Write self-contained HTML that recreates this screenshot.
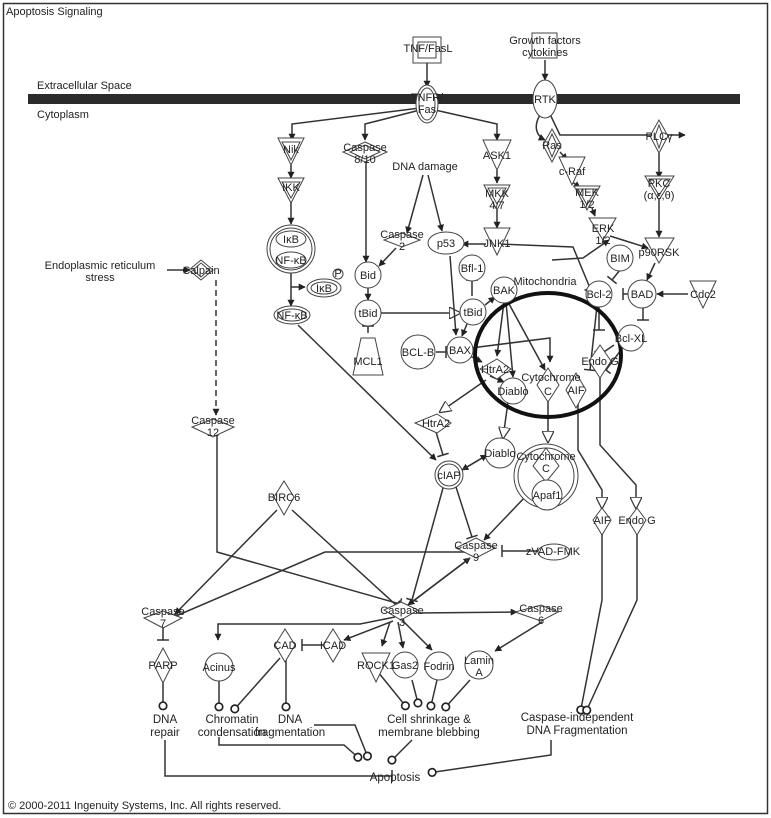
<!DOCTYPE html>
<html><head><meta charset="utf-8"><style>
html,body{margin:0;padding:0;background:#fff}
svg{display:block}
text{font-family:"Liberation Sans",sans-serif;font-size:11px;fill:#222}
.n{fill:#fff;stroke:#444;stroke-width:1}
.e{fill:none;stroke:#333;stroke-width:1.5}
.big text{font-size:11.5px}
</style></head><body>
<svg width="771" height="818" viewBox="0 0 771 818" xmlns="http://www.w3.org/2000/svg">
<defs>
<marker id="a" viewBox="0 0 10 10" refX="9" refY="5" markerWidth="7" markerHeight="7" orient="auto" markerUnits="userSpaceOnUse"><path d="M0,0L10,5L0,10z" fill="#222"/></marker>
<marker id="o" viewBox="0 0 10 10" refX="9" refY="5" markerWidth="12" markerHeight="12" orient="auto" markerUnits="userSpaceOnUse"><path d="M0,0L10,5L0,10z" fill="#fff" stroke="#333"/></marker>
<marker id="t" viewBox="0 0 4 12" refX="3" refY="6" markerWidth="4" markerHeight="12" orient="auto" markerUnits="userSpaceOnUse"><path d="M3,0V12" stroke="#333" stroke-width="1.5"/></marker>
<marker id="c" viewBox="0 0 12 12" refX="11" refY="6" markerWidth="10" markerHeight="10" orient="auto" markerUnits="userSpaceOnUse"><circle cx="6" cy="6" r="4.5" fill="#fff" stroke="#222" stroke-width="2"/></marker>
</defs>
<rect x="3.5" y="3.5" width="764" height="810" fill="none" stroke="#333" stroke-width="1.5"/>
<text x="6" y="15" font-size="12">Apoptosis Signaling</text>
<rect x="28" y="94" width="712" height="10" fill="#2b2b2b"/>
<text x="37" y="89">Extracellular Space</text>
<text x="37" y="118">Cytoplasm</text>
<text x="8" y="809" font-size="7.5">© 2000-2011 Ingenuity Systems, Inc. All rights reserved.</text>

<g class="e">
<path d="M427,62V87" marker-end="url(#a)"/>
<path d="M545,60V80" marker-end="url(#a)"/>
<path d="M420,108L292,124V140" marker-end="url(#a)"/>
<path d="M420,110L365,124V140" marker-end="url(#a)"/>
<path d="M435,110L497,124V140" marker-end="url(#a)"/>
<path d="M291,165V178" marker-end="url(#a)"/>
<path d="M291,198V224" marker-end="url(#a)"/>
<path d="M291,273V306" marker-end="url(#a)"/>
<path d="M291,287H305" marker-end="url(#a)"/>
<path d="M497,170V183" marker-end="url(#a)"/>
<path d="M497,210V228" marker-end="url(#a)"/>
<path d="M486,244H462" marker-end="url(#a)"/>
<path d="M498,244L573,247L590,288" marker-end="url(#t)"/>
<path d="M423,175L407,233" marker-end="url(#a)"/>
<path d="M428,175L442,231" marker-end="url(#a)"/>
<path d="M396,248L379,266" marker-end="url(#a)"/>
<path d="M366,162V262" marker-end="url(#a)"/>
<path d="M368,288V300" marker-end="url(#a)"/>
<path d="M368,333V326" marker-end="url(#t)"/>
<path d="M380,313H460" marker-end="url(#o)"/>
<path d="M472,296V280" marker-end="url(#t)"/>
<path d="M450,256L456,335" marker-end="url(#a)"/>
<path d="M467,324L462,336" marker-end="url(#a)"/>
<path d="M485,305L495,297" marker-end="url(#a)"/>
<path d="M436,352H446" marker-end="url(#t)"/>
<path d="M504,302L497,356" marker-end="url(#a)"/>
<path d="M506,302L513,377" marker-end="url(#a)"/>
<path d="M508,302L545,370" marker-end="url(#a)"/>
<path d="M471,348L550,338V362" marker-end="url(#a)"/>
<path d="M470,356L482,362" marker-end="url(#a)"/>
<path d="M490,376L504,382" marker-end="url(#a)"/>
<path d="M552,260L583,258L609,240" marker-end="url(#a)"/>
<path d="M570,180L580,188" marker-end="url(#a)"/>
<path d="M560,152L567,160" marker-end="url(#a)"/>
<path d="M592,208L595,216" marker-end="url(#a)"/>
<path d="M610,236L648,248" marker-end="url(#a)"/>
<path d="M548,110L560,135L685,135" marker-end="url(#a)"/>
<path d="M540,115C534,125 535,135 545,140" marker-end="url(#a)"/>
<path d="M659,153V178" marker-end="url(#a)"/>
<path d="M659,200V237" marker-end="url(#a)"/>
<path d="M655,263L647,280" marker-end="url(#a)"/>
<path d="M688,294H657" marker-end="url(#a)"/>
<path d="M630,294H623" marker-end="url(#t)"/>
<path d="M620,270L612,280" marker-end="url(#t)"/>
<path d="M643,308V320" marker-end="url(#t)"/>
<path d="M597,306L590,370" marker-end="url(#t)"/>
<path d="M599,306V330" marker-end="url(#t)"/>
<path d="M621,350L606,370" marker-end="url(#t)"/>
<path d="M614,345L598,356" marker-end="url(#t)"/>
<path d="M486,380L440,412" marker-end="url(#o)"/>
<path d="M508,402L503,438" marker-end="url(#o)"/>
<path d="M548,400V442" marker-end="url(#o)"/>
<path d="M436,432L443,455" marker-end="url(#t)"/>
<path d="M298,325L436,460" marker-end="url(#a)"/>
<path d="M487,455L462,470" marker-end="url(#a)"/>
<path d="M462,470L487,455" marker-end="url(#a)"/>
<path d="M578,400V450L602,490V508" marker-end="url(#o)"/>
<path d="M600,375V445L636,485V508" marker-end="url(#o)"/>
<path d="M456,487L472,537" marker-end="url(#t)"/>
<path d="M526,496L484,540" marker-end="url(#a)"/>
<path d="M540,551H502" marker-end="url(#t)"/>
<path d="M443,488L412,600" marker-end="url(#t)"/>
<path d="M408,605L470,558" marker-end="url(#a)"/>
<path d="M470,558L408,605" marker-end="url(#a)"/>
<path d="M167,270H190" marker-end="url(#a)"/>
<path d="M216,280V415" stroke-dasharray="6,4" marker-end="url(#a)"/>
<path d="M217,436V552L400,604" marker-end="url(#t)"/>
<path d="M277,510L175,614" marker-end="url(#a)"/>
<path d="M292,510L396,605" marker-end="url(#t)"/>
<path d="M176,616L325,552L470,552"/>
<path d="M416,613L517,612" marker-end="url(#a)"/>
<path d="M395,617L360,624H218V640" marker-end="url(#a)"/>
<path d="M393,621L344,640" marker-end="url(#a)"/>
<path d="M340,645H302" marker-end="url(#t)"/>
<path d="M390,622L382,646" marker-end="url(#a)"/>
<path d="M398,622L403,648" marker-end="url(#a)"/>
<path d="M402,620L432,650" marker-end="url(#a)"/>
<path d="M542,622L495,651" marker-end="url(#a)"/>
<path d="M163,625V640" marker-end="url(#t)"/>
<path d="M163,683V710" marker-end="url(#c)"/>
<path d="M219,681V711" marker-end="url(#c)"/>
<path d="M280,658L232,712" marker-end="url(#c)"/>
<path d="M286,658V711" marker-end="url(#c)"/>
<path d="M378,672L408,709" marker-end="url(#c)"/>
<path d="M412,680L419,707" marker-end="url(#c)"/>
<path d="M437,680L430,710" marker-end="url(#c)"/>
<path d="M470,680L443,710" marker-end="url(#c)"/>
<path d="M602,528V600L580,714" marker-end="url(#c)"/>
<path d="M637,528V600L585,714" marker-end="url(#c)"/>
<path d="M165,740V776H392" marker-end="url(#t)"/>
<path d="M219,737V745H344L361,760" marker-end="url(#c)"/>
<path d="M314,725H355L369,760" marker-end="url(#c)"/>
<path d="M412,740L389,763" marker-end="url(#c)"/>
<path d="M551,740V755L428,773" marker-end="url(#c)"/>
</g>

<ellipse cx="548" cy="355" rx="73" ry="62" fill="none" stroke="#111" stroke-width="4"/>

<g class="n">
<rect x="413" y="37" width="28" height="26"/><rect x="418" y="42" width="18" height="16"/>
<rect x="532" y="33" width="25" height="25"/>
<ellipse cx="427" cy="104" rx="11" ry="19"/><ellipse cx="427" cy="104" rx="8" ry="16"/>
<ellipse cx="545" cy="99" rx="12" ry="19"/>
<path d="M278,138H304L291,165z"/><path d="M282,142H300L291,160z"/>
<path d="M278,178H304L291,203z"/><path d="M282,182H300L291,198z"/>
<circle cx="291" cy="249" r="24"/><circle cx="291" cy="249" r="21"/>
<ellipse cx="291" cy="239" rx="15" ry="8"/><ellipse cx="291" cy="260" rx="15" ry="8"/>
<ellipse cx="324" cy="288" rx="17" ry="9"/><ellipse cx="324" cy="288" rx="13" ry="6"/>
<circle cx="338" cy="274" r="5"/>
<ellipse cx="292" cy="315" rx="18" ry="9"/><ellipse cx="292" cy="315" rx="14" ry="6"/>
<path d="M365,142L387,152L365,162L343,152z"/><path d="M365,145L380,152L365,159L350,152z"/>
<path d="M483,140H511L497,170z"/>
<path d="M484,185H510L497,210z"/><path d="M488,188H506L497,204z"/>
<path d="M484,228H510L497,255z"/>
<path d="M552,129L561,145L552,162L543,145z"/><path d="M552,134L557,145L552,157L547,145z"/>
<path d="M559,157H585L572,185z"/>
<path d="M574,186H600L587,210z"/><path d="M578,189H596L587,205z"/>
<path d="M589,218H616L603,240z"/>
<path d="M659,120L668,136L659,153L650,136z"/><path d="M659,125L663,136L659,148L655,136z"/>
<path d="M645,176H674L659,200z"/><path d="M649,179H670L659,195z"/>
<path d="M645,238H674L659,263z"/>
<circle cx="620" cy="258" r="13"/>
<circle cx="642" cy="294" r="14"/>
<circle cx="599" cy="294" r="13"/>
<path d="M690,281H716L703,308z"/>
<circle cx="631" cy="338" r="13"/>
<path d="M402,233L420,240L402,247L384,240z"/>
<ellipse cx="446" cy="243" rx="18" ry="11"/>
<circle cx="368" cy="275" r="13"/>
<circle cx="368" cy="313" r="13"/>
<path d="M361,338H375L383,375H353z"/>
<circle cx="472" cy="268" r="13"/>
<circle cx="473" cy="312" r="13"/>
<circle cx="504" cy="290" r="13"/>
<circle cx="418" cy="352" r="17"/>
<circle cx="460" cy="350" r="13"/>
<path d="M497,359L511,369L497,379L480,369z"/>
<circle cx="513" cy="391" r="13"/>
<path d="M548,368L559,385L548,402L537,385z"/>
<path d="M576,373L586,390L576,408L566,390z"/>
<path d="M600,345L611,361L600,378L589,361z"/>
<path d="M437,414L451,423L437,433L415,423z"/>
<circle cx="500" cy="453" r="15"/>
<circle cx="546" cy="476" r="32"/><circle cx="546" cy="476" r="28"/>
<path d="M546,448L559,466L546,482L533,466z"/>
<circle cx="547" cy="495" r="15"/>
<circle cx="449" cy="475" r="14"/><circle cx="449" cy="475" r="11"/>
<path d="M602,508L611,520L602,535L593,520z"/>
<path d="M637,508L646,520L637,535L628,520z"/>
<path d="M476,538L495,548L476,558L456,548z"/>
<ellipse cx="554" cy="552" rx="16" ry="8"/>
<path d="M201,260L213,270L201,280L189,270z"/><path d="M201,263L209,270L201,277L193,270z"/>
<path d="M213,419L234,427L213,437L192,427z"/>
<path d="M284,481L294,497L284,515L274,497z"/>
<path d="M163,611L182,618L163,628L144,618z"/>
<path d="M401,602L418,610L401,620L384,610z"/>
<path d="M541,605L558,612L541,621L515,612z"/>
<path d="M163,648L172,665L163,683L154,665z"/>
<circle cx="219" cy="667" r="14"/>
<path d="M285,629L295,645L285,662L275,645z"/>
<path d="M333,629L343,645L333,662L323,645z"/>
<path d="M362,653H390L376,682z"/>
<circle cx="405" cy="665" r="13"/>
<circle cx="439" cy="666" r="14"/>
<circle cx="479" cy="665" r="14"/>
</g>

<g text-anchor="middle">
<text x="428" y="52">TNF/FasL</text>
<text x="545" y="44">Growth factors</text><text x="545" y="56">cytokines</text>
<text x="427" y="101">TNFR/</text><text x="427" y="113">Fas</text>
<text x="545" y="103">RTK</text>
<text x="291" y="153">Nik</text><text x="291" y="191">IKK</text>
<text x="291" y="243" font-size="10">IκB</text><text x="291" y="264" font-size="10">NF-κB</text>
<text x="324" y="292" font-size="10">IκB</text><text x="338" y="277" font-size="7">P</text>
<text x="292" y="319" font-size="10">NF-κB</text>
<text x="365" y="151">Caspase</text><text x="365" y="163">8/10</text>
<text x="425" y="170">DNA damage</text>
<text x="497" y="159">ASK1</text><text x="497" y="197">MKK</text><text x="497" y="209">4/7</text>
<text x="497" y="247">JNK1</text>
<text x="552" y="149">Ras</text><text x="572" y="175">c-Raf</text>
<text x="587" y="196">MEK</text><text x="587" y="208">1/2</text>
<text x="603" y="232">ERK</text><text x="603" y="244">1/2</text>
<text x="659" y="140">PLCγ</text><text x="659" y="187">PKC</text><text x="659" y="199">(α,ε,θ)</text>
<text x="659" y="256">p90RSK</text><text x="620" y="262">BIM</text>
<text x="642" y="298">BAD</text><text x="599" y="298">Bcl-2</text><text x="703" y="298">Cdc2</text>
<text x="631" y="342">Bcl-XL</text>
<text x="402" y="238">Caspase</text><text x="402" y="250">2</text>
<text x="446" y="247">p53</text><text x="368" y="279">Bid</text><text x="368" y="317">tBid</text>
<text x="368" y="365">MCL1</text><text x="472" y="272">Bfl-1</text><text x="473" y="316">tBid</text>
<text x="504" y="294">BAK</text><text x="545" y="285">Mitochondria</text>
<text x="418" y="356">BCL-B</text><text x="460" y="354">BAX</text>
<text x="495" y="373">HtrA2</text><text x="513" y="395">Diablo</text>
<text x="551" y="381">Cytochrome</text><text x="548" y="395">C</text>
<text x="576" y="394">AIF</text><text x="600" y="365">Endo G</text>
<text x="436" y="427">HtrA2</text><text x="500" y="457">Diablo</text>
<text x="546" y="460">Cytochrome</text><text x="546" y="472">C</text><text x="547" y="499">Apaf1</text>
<text x="449" y="479">cIAP</text>
<text x="602" y="524">AIF</text><text x="637" y="524">Endo G</text>
<text x="476" y="549">Caspase</text><text x="476" y="561">9</text>
<text x="553" y="555">zVAD-FMK</text>
<text x="100" y="269" font-size="12">Endoplasmic reticulum</text><text x="100" y="281" font-size="12">stress</text>
<text x="201" y="274">Calpain</text>
<text x="213" y="424">Caspase</text><text x="213" y="436">12</text>
<text x="284" y="501">BIRC6</text>
<text x="163" y="615">Caspase</text><text x="163" y="627">7</text>
<text x="402" y="614">Caspase</text><text x="402" y="626">3</text>
<text x="541" y="612">Caspase</text><text x="541" y="624">6</text>
<text x="163" y="669">PARP</text><text x="219" y="671">Acinus</text>
<text x="285" y="649">CAD</text><text x="333" y="649">ICAD</text>
<text x="376" y="669">ROCK1</text><text x="405" y="669">Gas2</text><text x="439" y="670">Fodrin</text>
<text x="479" y="664">Lamin</text><text x="479" y="676">A</text>
</g>
<g text-anchor="middle" class="big">
<text x="165" y="723">DNA</text><text x="165" y="736">repair</text>
<text x="232" y="723">Chromatin</text><text x="232" y="736">condensation</text>
<text x="290" y="723">DNA</text><text x="290" y="736">fragmentation</text>
<text x="429" y="723">Cell shrinkage &amp;</text><text x="429" y="736">membrane blebbing</text>
<text x="577" y="721">Caspase-independent</text><text x="577" y="734">DNA Fragmentation</text>
<text x="395" y="781">Apoptosis</text>
</g>
</svg>
</body></html>
